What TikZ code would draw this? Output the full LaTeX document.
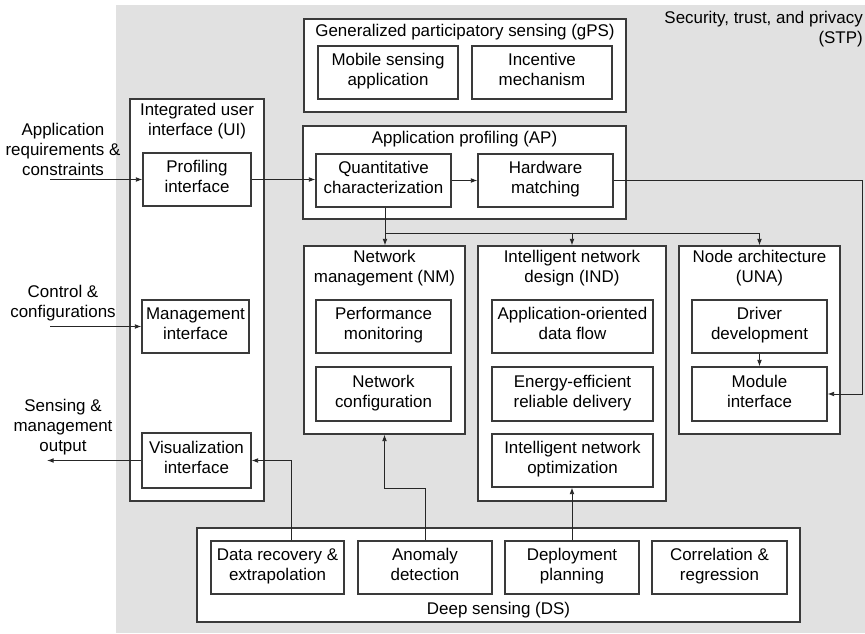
\documentclass[tikz,border=0pt]{standalone}
\usepackage{fontspec}
\setmainfont{Liberation Sans}
\usetikzlibrary{arrows.meta}
\definecolor{bggray}{HTML}{E1E1E1}
\definecolor{edge}{HTML}{3A3A3A}
\begin{document}
\begin{tikzpicture}[x=0.75pt,y=-0.75pt,
  font=\fontsize{12.7}{15}\selectfont,
  box/.style={draw=edge, line width=0.8pt, fill=white, inner sep=0pt, align=center},
  tbox/.style={box, execute at begin node={\rule{0pt}{13.5pt}}, execute at end node=\strut},
  sz/.style 2 args={minimum width=#1*0.75pt, minimum height=#2*0.75pt},
  arr/.style={draw=black!85, line width=0.7pt, -{Latex[length=5pt,width=3.6pt]}},
  ln/.style={draw=black!85, line width=0.7pt},
  lbl/.style={align=center, inner sep=0pt}]
\useasboundingbox (0,0) rectangle (865,633);
\fill[bggray] (116,5) rectangle (865,633);
\node[lbl, align=right, anchor=north east] (stp) at (863,11) {Security, trust, and privacy\\(STP)};

% UI
\node[box, sz={134}{402}] (ui) at (197,300) {};
\node[lbl] (uit) at (197,121) {Integrated user\\interface (UI)};
\node[tbox, sz={108}{53}] (prof) at (197,179.5) {Profiling\\interface};
\node[tbox, sz={107}{53}] (mgmt) at (195.5,326.5) {Management\\interface};
\node[tbox, sz={109}{55}] (vis) at (196.5,460.5) {Visualization\\interface};

% left labels
\node[lbl] (lreq) at (63,149) {Application\\requirements \&\\constraints};
\node[lbl] (lctl) at (63,303) {Control \&\\configurations};
\node[lbl] (lout) at (63,427) {Sensing \&\\management\\output};
\coordinate (inA) at (50,179.5);
\coordinate (inB) at (50,326.5);
\coordinate (outC) at (47,460.5);

% gPS
\node[box, sz={322}{93}] (gps) at (465,65.5) {};
\node[lbl] (gpst) at (465,32) {Generalized participatory sensing (gPS)};
\node[tbox, sz={140}{53}] (mob) at (388,72.5) {Mobile sensing\\application};
\node[tbox, sz={140}{53}] (inc) at (542,72.5) {Incentive\\mechanism};

% AP
\node[box, sz={323}{93}] (ap) at (464.5,172.5) {};
\node[lbl] (apt) at (464.5,139) {Application profiling (AP)};
\node[tbox, sz={135}{53}] (quant) at (383.5,180.5) {Quantitative\\characterization};
\node[tbox, sz={135}{53}] (hw) at (545.5,180.5) {Hardware\\matching};

% NM
\node[box, sz={161}{188}] (nm) at (384.5,340) {};
\node[lbl] (nmt) at (384.5,268) {Network\\management (NM)};
\node[tbox, sz={135}{53}] (perf) at (383.5,326.5) {Performance\\monitoring};
\node[tbox, sz={135}{54}] (ncfg) at (383.5,394) {Network\\configuration};

% IND
\node[box, sz={188}{255}] (ind) at (572,373.5) {};
\node[lbl] (indt) at (572,268) {Intelligent network\\design (IND)};
\node[tbox, sz={161}{53}] (aodf) at (572.5,326.5) {Application-oriented\\data flow};
\node[tbox, sz={161}{54}] (eerd) at (572.5,394) {Energy-efficient\\reliable delivery};
\node[tbox, sz={161}{53}] (iopt) at (572.5,460.5) {Intelligent network\\optimization};

% UNA
\node[box, sz={161}{188}] (una) at (759.5,340) {};
\node[lbl] (unat) at (759.5,268) {Node architecture\\(UNA)};
\node[tbox, sz={135}{53}] (drv) at (759.5,326.5) {Driver\\development};
\node[tbox, sz={135}{54}] (mod) at (759.5,394) {Module\\interface};

% DS
\node[box, sz={603}{94}] (ds) at (498.5,575) {};
\node[lbl] (dst) at (498.5,610) {Deep sensing (DS)};
\node[tbox, sz={133}{53}] (drec) at (277.5,567.5) {Data recovery \&\\extrapolation};
\node[tbox, sz={134}{53}] (anom) at (425,567.5) {Anomaly\\detection};
\node[tbox, sz={134}{53}] (dep) at (572,567.5) {Deployment\\planning};
\node[tbox, sz={135}{53}] (corr) at (719.5,567.5) {Correlation \&\\regression};

% connectors
\draw[arr] (inA) -- (prof.west |- inA);
\draw[arr] (inB) -- (mgmt.west |- inB);
\draw[arr] (vis.west |- outC) -- (outC);
\draw[arr] (prof.east) -- (prof.east -| quant.west);
\draw[arr] (quant.east |- hw.west) -- (hw.west);
\coordinate (br) at (385,233);
\draw[ln] (quant.south -| br) -- (br);
\draw[arr] (br) -- (br |- nm.north);
\draw[arr] (br) -| (ind.north);
\draw[arr] (br) -| (una.north);
\draw[arr] (drv.south) -- (mod.north);
\coordinate (rt) at (862,0);
\draw[arr] (hw.east) -- (hw.east -| rt) |- (mod.east);
\coordinate (dv) at (291,0);
\draw[arr] (drec.north -| dv) |- (vis.east);
\coordinate (aj) at (0,488);
\draw[arr] (anom.north) -- (anom.north |- aj) -| (nm.south);
\draw[arr] (dep.north) -- (dep.north |- iopt.south);
\end{tikzpicture}
\end{document}
